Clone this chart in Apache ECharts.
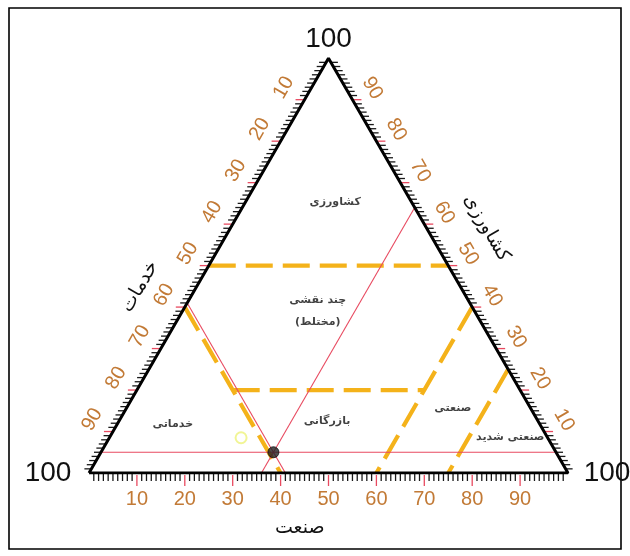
<!DOCTYPE html>
<html><head><meta charset="utf-8">
<script src="https://cdn.jsdelivr.net/npm/echarts@6/dist/echarts.min.js"></script>
<style>html,body{margin:0;padding:0;background:#fff}#c{width:630px;height:556px}</style>
</head><body><div id="c"></div>
<script>
// Ternary points are [services, industry, agriculture] (percent)
const tickValues = [10, 20, 30, 40, 50, 60, 70, 80, 90];
const minorTicks = Array.from({length: 99}, (_, k) => k + 1);
const vertexText = '100';
const axisTitles = ['صنعت', 'خدمات', 'کشاورزی'];   // bottom, left, right

const boundAgri50 = [[50, 0, 50], [0, 50, 50]];
const boundServices60 = [[60, 0, 40], [60, 40, 0]];
const boundAgri20 = [[60, 20, 20], [20, 60, 20]];
const boundIndustry60 = [[0, 60, 40], [40, 60, 0]];
const boundIndustry75 = [[0, 75, 25], [25, 75, 0]];

const samplePoint = [59, 36, 5];
const redAgri = [[95, 0, 5], [0, 95, 5]];
const redIndustry = [[64, 36, 0], [0, 36, 64]];
const redServices = [[59, 0, 41], [59, 41, 0]];
const hollowPoint = [64, 27.5, 8.5];

const regionNames = ['کشاورزی', 'چند نقشی\n(مختلط)', 'خدماتی', 'بازرگانی', 'صنعتی', 'صنعتی شدید'];
const regionIndustry = [18.8, 28.2, 11.6, 43.4, 68.1, 83.6];
const regionAgri = [65.2, 39.1, 11.8, 12.6, 15.7, 8.7];

const H = Math.sqrt(3) / 2;
const toXY = p => [p[1] + p[2] / 2, p[2] * H];

const ORANGE = '#f4b21a';
const RED = '#e84a60';
const TICKC = '#c27a36';

function dashed(points) {
  return {type: 'line', data: points.map(toXY), symbol: 'none', silent: true,
    lineStyle: {color: ORANGE, width: 4.2, type: [27, 10]}, z: 3};
}
function redLine(points) {
  return {type: 'line', data: points.map(toXY), symbol: 'none', silent: true,
    lineStyle: {color: RED, width: 1.1}, z: 4};
}

const tickData = [];
for (let e = 0; e < 3; e++) minorTicks.forEach(v => tickData.push([e, v]));
function edgePoint(e, v) {
  if (e === 0) return toXY([100 - v, v, 0]);
  if (e === 1) return toXY([v, 0, 100 - v]);
  return toXY([0, 100 - v, v]);
}

const labelData = [];
for (let e = 0; e < 3; e++) tickValues.forEach(v => labelData.push([e, v]));

const chart = echarts.init(document.getElementById('c'));
chart.setOption({
  animation: false,
  grid: {left: 89, top: 58.2, width: 479, height: 414.8},
  xAxis: {type: 'value', min: 0, max: 100, show: false},
  yAxis: {type: 'value', min: 0, max: 100 * H, show: false},
  graphic: [{type: 'rect', shape: {x: 9, y: 8, width: 612, height: 541},
    style: {fill: 'none', stroke: '#000', lineWidth: 1.6}, silent: true}],
  series: [
    dashed(boundAgri50), dashed(boundServices60), dashed(boundAgri20),
    dashed(boundIndustry60), dashed(boundIndustry75),
    redLine(redAgri), redLine(redIndustry), redLine(redServices),
    {type: 'line', data: [[100, 0, 0], [0, 100, 0], [0, 0, 100], [100, 0, 0]].map(toXY),
      symbol: 'none', lineStyle: {color: '#000', width: 3}, z: 6, silent: true},
    {type: 'custom', z: 5, silent: true, data: tickData,
      renderItem: (params, api) => {
        const e = api.value(0), v = api.value(1);
        const p = api.coord(edgePoint(e, v));
        const major = v % 10 === 0;
        const len = major ? 9 : 7;
        let d = e === 0 ? [0, 1] : (e === 1 ? [-1, 0] : [1, 0]);
        if (e === 0 && major) { return {type: 'line', shape: {x1: p[0], y1: p[1] + 2, x2: p[0], y2: p[1] + 13},
          style: {stroke: RED, lineWidth: 1.3}}; }
        return {type: 'line', shape: {x1: p[0], y1: p[1], x2: p[0] + d[0] * len, y2: p[1] + d[1] * (e === 0 ? 8 : len)},
          style: {stroke: major ? RED : '#1a1a1a', lineWidth: 1.3}};
      }},
    {type: 'custom', z: 7, silent: true, data: labelData,
      renderItem: (params, api) => {
        const e = api.value(0), v = api.value(1);
        const p = api.coord(edgePoint(e, v));
        let x, y, rot = 0;
        if (e === 0) { x = p[0]; y = p[1] + 26; }
        else if (e === 1) { x = p[0] - 24 * 0.866; y = p[1] - 24 * 0.5; rot = Math.PI / 3; }
        else { x = p[0] + 23 * 0.866; y = p[1] - 23 * 0.5; rot = -Math.PI / 3; }
        return {type: 'text', x: x, y: y, rotation: rot,
          style: {text: String(v), x: 0, y: 0, align: 'center', verticalAlign: 'middle',
            fill: TICKC, font: '20px "Liberation Sans", Arial, sans-serif'}};
      }},
    {type: 'custom', z: 7, silent: true, data: [[0, 0], [1, 0], [2, 0]],
      renderItem: (params, api) => {
        const e = api.value(0);
        const verts = [[100, 0, 0], [0, 100, 0], [0, 0, 100]];
        const off = [[-41, 0], [39, 0], [0, -19]];
        const p = api.coord(toXY(verts[e]));
        return {type: 'text', x: p[0] + off[e][0], y: p[1] + off[e][1],
          style: {text: vertexText, x: 0, y: 0, align: 'center', verticalAlign: 'middle',
            fill: '#111', font: '28px "Liberation Sans", Arial, sans-serif'}};
      }},
    {type: 'custom', z: 7, silent: true, data: [[0, 0], [1, 0], [2, 0]],
      renderItem: (params, api) => {
        const e = api.value(0);
        let x, y, rot = 0;
        if (e === 0) { const p = api.coord(toXY([56, 44, 0])); x = p[0]; y = p[1] + 55; }
        else if (e === 1) { const p = api.coord(toXY([61, 0, 39])); x = p[0] - 49 * 0.866; y = p[1] - 49 * 0.5; rot = Math.PI / 3; }
        else { const p = api.coord(toXY([0, 47.2, 52.8])); x = p[0] + 52 * 0.866; y = p[1] - 52 * 0.5; rot = -Math.PI / 3; }
        return {type: 'text', x: x, y: y, rotation: rot,
          style: {text: axisTitles[e], x: 0, y: 0, align: 'center', verticalAlign: 'middle',
            fill: '#111', font: '19px "DejaVu Sans", sans-serif'}};
      }},
    {type: 'scatter', z: 8, silent: true, symbolSize: 0,
      data: regionNames.map((n, k) => ({value: toXY([100 - regionIndustry[k] - regionAgri[k], regionIndustry[k], regionAgri[k]]), name: n})),
      label: {show: true, position: 'inside', formatter: p => p.name, color: '#111',
        fontSize: 11, fontWeight: 'bold', fontFamily: '"DejaVu Sans", sans-serif', lineHeight: 22}},
    {type: 'scatter', z: 9, silent: true, data: [toXY(samplePoint)], symbol: 'circle', symbolSize: 11,
      itemStyle: {color: '#222', borderColor: '#111', borderWidth: 1}},
    {type: 'scatter', z: 9, silent: true, data: [toXY(hollowPoint)], symbol: 'circle', symbolSize: 11,
      itemStyle: {color: 'rgba(0,0,0,0)', borderColor: '#eef27a', borderWidth: 2}}
  ]
});
</script></body></html>
